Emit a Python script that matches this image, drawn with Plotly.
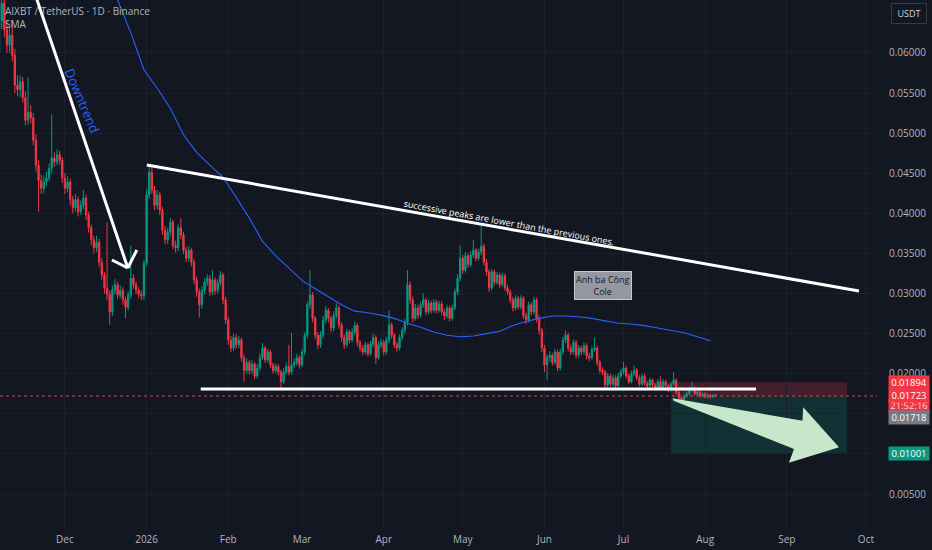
import pandas as pd
import plotly.graph_objects as go

# 1. Daily AIXBT/USDT candles, prices in units of 0.0001 USDT
first_open = 601
closes = [
    640, 662, 629, 610, 622, 597, 560, 554, 564, 544,
    516, 526, 519, 491, 460, 441, 431, 439, 444, 456,
    469, 464, 473, 466, 444, 431, 439, 417, 407, 417,
    402, 410, 419, 398, 382, 367, 357, 364, 339, 323,
    307, 299, 277, 304, 311, 298, 304, 292, 283, 298,
    319, 311, 304, 299, 297, 338, 423, 451, 429, 410,
    423, 404, 379, 367, 377, 389, 360, 357, 382, 373,
    354, 344, 354, 339, 317, 302, 286, 304, 314, 319,
    302, 317, 304, 313, 323, 292, 267, 242, 232, 245,
    236, 242, 220, 204, 214, 204, 212, 197, 207, 220,
    232, 217, 227, 211, 204, 209, 202, 190, 202, 209,
    202, 211, 214, 220, 211, 227, 248, 286, 298, 269,
    248, 236, 248, 267, 279, 269, 257, 273, 282, 261,
    245, 236, 252, 242, 252, 260, 239, 232, 227, 236,
    225, 237, 245, 220, 236, 239, 227, 242, 261, 248,
    236, 232, 245, 254, 264, 311, 292, 269, 282, 273,
    286, 292, 277, 288, 279, 289, 279, 287, 277, 272,
    282, 269, 282, 302, 319, 344, 329, 347, 336, 348,
    354, 344, 352, 359, 339, 327, 307, 327, 314, 323,
    311, 322, 307, 302, 292, 282, 294, 283, 294, 272,
    267, 286, 277, 292, 269, 254, 232, 211, 220, 223,
    214, 227, 207, 227, 242, 248, 232, 227, 239, 223,
    232, 227, 235, 222, 220, 230, 232, 214, 204, 202,
    186, 197, 187, 195, 185, 197, 202, 207, 197, 190,
    200, 204, 195, 187, 197, 188, 185, 192, 186, 182,
    190, 182, 190, 185, 180, 187, 192, 177, 170, 167,
    172, 175, 180, 182, 175, 177, 172, 175, 171, 173,
    171, 173, 172.3,
]
highs = [
    690, 680, 672, 640, 632, 641, 605, 572, 572, 570,
    552, 570, 535, 525, 498, 466, 448, 447, 452, 462,
    523, 476, 480, 478, 470, 450, 446, 443, 422, 424,
    421, 416, 429, 423, 402, 386, 372, 372, 368, 344,
    327, 389, 304, 310, 318, 315, 310, 308, 296, 303,
    360, 324, 315, 308, 304, 342, 430, 460, 458, 434,
    429, 427, 408, 384, 382, 394, 392, 366, 386, 394,
    377, 358, 359, 357, 343, 321, 306, 309, 319, 324,
    323, 329, 320, 318, 328, 326, 296, 271, 247, 250,
    249, 247, 245, 224, 219, 217, 217, 215, 212, 225,
    238, 235, 231, 230, 214, 213, 212, 205, 207, 214,
    236, 251, 219, 225, 223, 231, 252, 290, 329, 302,
    272, 252, 253, 272, 284, 282, 272, 278, 288, 285,
    264, 249, 256, 255, 257, 265, 263, 242, 236, 240,
    239, 241, 250, 248, 240, 244, 242, 246, 279, 264,
    251, 240, 249, 258, 268, 329, 315, 296, 287, 286,
    290, 300, 295, 292, 291, 293, 292, 291, 290, 281,
    286, 285, 286, 306, 324, 360, 348, 352, 350, 353,
    367, 357, 356, 385, 362, 343, 330, 331, 330, 327,
    326, 326, 325, 311, 305, 296, 298, 297, 298, 297,
    276, 290, 289, 296, 295, 273, 257, 236, 224, 228,
    226, 231, 230, 231, 246, 254, 251, 236, 243, 242,
    236, 235, 239, 238, 226, 234, 245, 235, 217, 208,
    205, 201, 200, 199, 198, 201, 206, 215, 210, 200,
    204, 210, 207, 198, 200, 200, 191, 195, 194, 189,
    193, 197, 193, 192, 188, 190, 202, 194, 180, 172,
    175, 178, 183, 190, 184, 180, 179, 177, 177, 176,
    175, 175, 175,
]
lows = [
    595, 630, 620, 600, 600, 590, 550, 546, 545, 538,
    510, 510, 512, 485, 452, 402, 424, 425, 434, 440,
    450, 458, 460, 460, 438, 424, 426, 410, 400, 402,
    396, 398, 405, 392, 376, 360, 350, 352, 333, 317,
    300, 292, 261, 272, 299, 293, 294, 286, 269, 279,
    294, 306, 299, 294, 292, 292, 334, 418, 424, 404,
    405, 398, 373, 361, 362, 372, 355, 351, 353, 368,
    349, 339, 340, 334, 312, 296, 270, 281, 299, 309,
    297, 298, 299, 300, 309, 287, 262, 236, 227, 228,
    231, 232, 215, 190, 200, 199, 200, 193, 194, 204,
    217, 213, 214, 207, 200, 201, 198, 182, 187, 199,
    198, 199, 207, 210, 206, 208, 223, 244, 281, 264,
    243, 231, 232, 244, 263, 264, 252, 253, 269, 256,
    240, 231, 233, 238, 239, 248, 234, 228, 223, 224,
    221, 222, 233, 212, 217, 232, 223, 224, 238, 244,
    232, 228, 229, 241, 250, 260, 287, 264, 266, 268,
    270, 282, 273, 274, 275, 276, 275, 276, 273, 267,
    269, 265, 266, 279, 298, 315, 325, 326, 332, 333,
    344, 340, 341, 348, 335, 322, 302, 304, 310, 311,
    307, 308, 303, 298, 288, 278, 279, 280, 280, 268,
    262, 264, 273, 274, 264, 249, 227, 202, 192, 215,
    210, 211, 203, 204, 224, 238, 228, 223, 224, 219,
    220, 223, 224, 218, 216, 217, 227, 210, 200, 198,
    182, 183, 184, 184, 182, 183, 194, 199, 194, 187,
    188, 197, 192, 184, 185, 185, 182, 183, 183, 179,
    180, 179, 180, 182, 177, 178, 185, 174, 167, 162,
    165, 170, 173, 178, 173, 173, 170, 170, 169, 169,
    169, 170, 171,
]
unit = 1e-4

# SMA line, one reading every 5 days (same units)
sma_vals = [
    716, 666, 625, 579, 556, 531, 498, 476, 460, 445,
    420, 394, 365, 347, 332, 316, 306, 296, 286, 278,
    276, 273, 269, 263, 258, 252, 248, 246, 247, 250,
    253, 260, 265, 269, 272, 272, 271, 269, 266, 263,
    262, 260, 257, 254, 251, 246, 241,
]

month_ticks = ["2025-12-01", "2026-01-01", "2026-02-01", "2026-03-01", "2026-04-01", "2026-05-01",
               "2026-06-01", "2026-07-01", "2026-08-01", "2026-09-01", "2026-10-01"]
month_labels = ["Dec", "2026", "Feb", "Mar", "Apr", "May", "Jun", "Jul", "Aug", "Sep", "Oct"]
price_ticks = [0.005 * k for k in range(1, 13)]
# 0.01000 and 0.01500 sit under the trade-level labels, so they show no text
price_labels = ["0.00500", "", "", "0.02000", "0.02500", "0.03000", "0.03500",
                "0.04000", "0.04500", "0.05000", "0.05500", "0.06000"]

# trade levels
stop_price = 0.01894
last_price = 0.01723
entry_price = 0.01718
target_price = 0.01001
countdown = "21:52:16"

dates = pd.date_range("2025-11-06", periods=len(closes), freq="D")
opens = [first_open] + closes[:-1]
sma_dates = pd.date_range("2025-12-16", periods=len(sma_vals), freq="5D")

BG = "#131722"
UP = "#089981"
DOWN = "#f23645"
AXIS_TXT = "#b2b5be"
FONT = "Open Sans"

# 2. Candles + SMA
fig = go.Figure()
fig.add_trace(go.Candlestick(
    x=dates,
    open=[v * unit for v in opens],
    high=[v * unit for v in highs],
    low=[v * unit for v in lows],
    close=[v * unit for v in closes],
    increasing=dict(line=dict(color=UP, width=1), fillcolor=UP),
    decreasing=dict(line=dict(color=DOWN, width=1), fillcolor=DOWN),
    showlegend=False,
))
fig.add_trace(go.Scatter(x=sma_dates, y=[v * unit for v in sma_vals], mode="lines",
                         line=dict(color="#2962ff", width=1.1), showlegend=False, hoverinfo="skip"))

# big light green arrow pointing down-right (drawing, anchored in date/price space)
arrow_x = ["2026-07-19 14:00", "2026-09-06 22:00", "2026-09-07 05:00", "2026-09-20 19:00",
           "2026-09-01 19:00", "2026-09-03 17:00", "2026-07-20 00:00"]
arrow_y = [0.01693, 0.01414, 0.01581, 0.01082, 0.00890, 0.01061, 0.01663]
fig.add_trace(go.Scatter(x=arrow_x, y=arrow_y, fill="toself", mode="lines",
                         line=dict(width=0, color="#c8e6c9"), fillcolor="#c8e6c9",
                         showlegend=False, hoverinfo="skip"))

# 3. Drawings: trend lines, support, position boxes
white = dict(color="white", width=3)
shapes = [
    # short position boxes
    dict(type="rect", x0="2026-07-19 02:00", x1="2026-09-23 19:00", y0=last_price, y1=stop_price,
         fillcolor="rgba(242,54,69,0.22)", line=dict(width=0), layer="below"),
    dict(type="rect", x0="2026-07-19 02:00", x1="2026-09-23 19:00", y0=target_price, y1=last_price,
         fillcolor="rgba(8,153,129,0.2)", line=dict(width=0), layer="below"),
    # downtrend arrow
    dict(type="line", x0="2025-11-19 02:00", y0=0.0679, x1="2025-12-24 21:00", y1=0.03318, line=white),
    dict(type="line", x0="2025-12-18 20:00", y0=0.03418, x1="2025-12-24 21:00", y1=0.03318, line=white),
    dict(type="line", x0="2025-12-24 21:00", y0=0.03318, x1="2025-12-28 07:00", y1=0.03543, line=white),
    # lower highs line
    dict(type="line", x0="2026-01-01 02:00", y0=0.04603, x1="2026-09-28 08:40", y1=0.03031, line=white),
    # support
    dict(type="line", x0="2026-01-21 13:00", y0=0.01808, x1="2026-08-20 07:00", y1=0.01808, line=white),
    # last price dotted line
    dict(type="line", xref="paper", x0=0, x1=1, y0=last_price, y1=last_price,
         line=dict(color=DOWN, width=1, dash="dot")),
]

annotations = [
    dict(text="Downtrend", x="2025-12-07 10:00", y=0.0541, showarrow=False, textangle=67,
         font=dict(color="#2962ff", size=13, family=FONT)),
    dict(text="successive peaks are lower than the previous ones.", x="2026-05-18 12:00", y=0.03885,
         showarrow=False, textangle=10.5, font=dict(color="white", size=9, family=FONT)),
    dict(text="Anh ba Công<br>Cole", x="2026-06-23 07:00", y=0.03106, showarrow=False,
         bgcolor="#9598a1", bordercolor="#c5c7cd", borderwidth=1, borderpad=1,
         font=dict(color="#131722", size=9, family=FONT)),
    dict(text="AIXBT / TetherUS · 1D · Binance<br>SMA", xref="paper", yref="paper", x=0, y=1,
         xanchor="left", yanchor="top", xshift=3, yshift=-2, showarrow=False, align="left",
         font=dict(color=AXIS_TXT, size=10, family=FONT)),
    dict(text="USDT", xref="paper", yref="paper", x=1, y=1, xanchor="left", yanchor="top",
         xshift=14, yshift=-3, showarrow=False, bgcolor=BG, bordercolor="#363a45", borderwidth=1,
         borderpad=3, width=28, font=dict(color="#d1d4dc", size=9, family=FONT)),
]

# price axis labels for the trade levels
def axis_label(text, price, color, shift=0, txt="white"):
    return dict(text=text, xref="paper", x=1, y=price, xanchor="left", yanchor="middle",
                xshift=11, yshift=shift, showarrow=False, bgcolor=color, borderpad=0, width=40,
                font=dict(color=txt, size=9.5, family=FONT))

annotations += [
    axis_label(f"{stop_price:.5f}", stop_price, DOWN),
    axis_label(countdown, last_price, DOWN, shift=-10, txt="#fcd3d6"),
    axis_label(f"{last_price:.5f}", last_price, DOWN),
    axis_label(f"{entry_price:.5f}", entry_price, "#787b86", shift=-21),
    axis_label(f"{target_price:.5f}", target_price, UP),
]

# 4. Layout in TradingView dark style
fig.update_layout(
    width=932, height=550,
    margin=dict(l=0, r=55, t=0, b=22),
    paper_bgcolor=BG, plot_bgcolor=BG,
    shapes=shapes, annotations=annotations,
    showlegend=False,
    font=dict(family=FONT, color=AXIS_TXT),
    xaxis=dict(
        range=["2025-11-06 08:40", "2026-10-05 05:00"],
        rangeslider=dict(visible=False),
        tickvals=month_ticks, ticktext=month_labels,
        tickfont=dict(size=10, color=AXIS_TXT),
        showgrid=True, gridcolor="#1c202c", zeroline=False, showline=False,
        ticks="", ticklabelstandoff=4,
    ),
    yaxis=dict(
        side="right",
        range=[0.00076, 0.0666],
        tickvals=price_ticks, ticktext=price_labels,
        tickfont=dict(size=10, color=AXIS_TXT),
        showgrid=True, gridcolor="#1c202c", zeroline=False, showline=False,
        ticks="", ticklabelstandoff=11,
    ),
)

# page has a default 8px body margin; drop it so the figure fills the window
fig.write_html("out.html", config={"displayModeBar": False},
               post_script="document.body.style.margin='0';")
